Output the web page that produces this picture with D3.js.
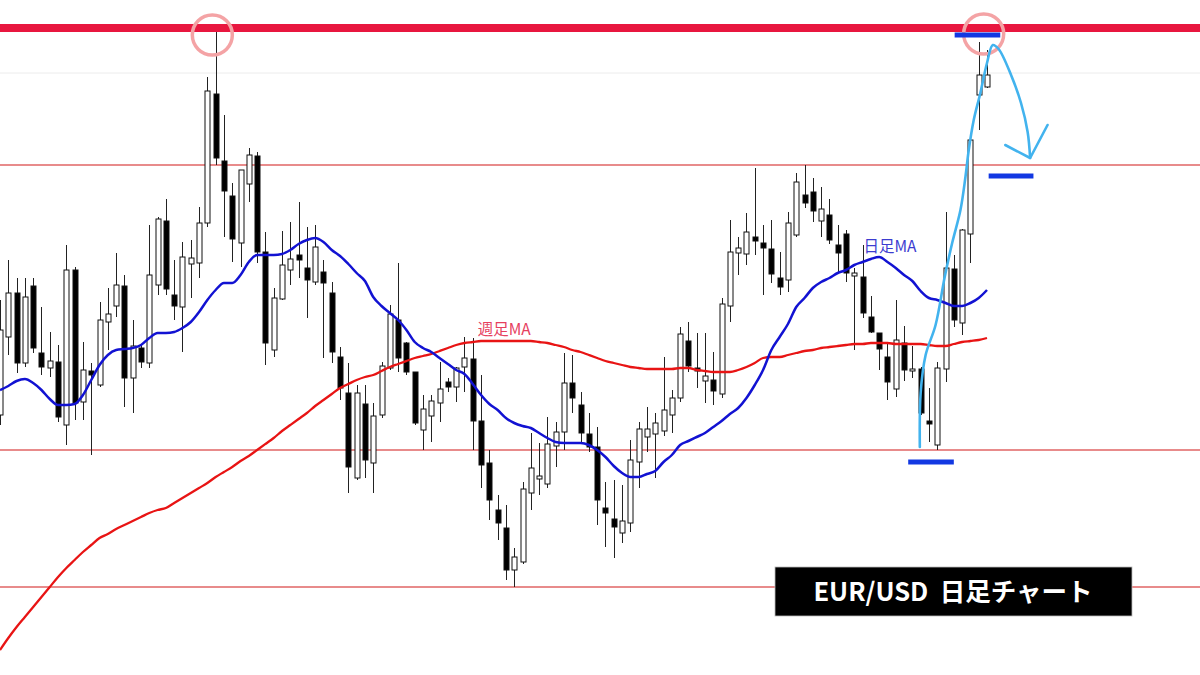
<!DOCTYPE html>
<html>
<head>
<meta charset="utf-8">
<script src="https://cdn.jsdelivr.net/npm/d3@7"></script>
<style>
    html, body { margin: 0; padding: 0; background: #fff; }
    svg { display: block; }
</style>
</head>
<body>
<svg width="1200" height="675"></svg>
<script>
//candles (price units, one per day)
var opens = [185,263,307,237,314,247,232,238,175,330, 198,229,215,278,294,314,222,252,237,315,
    379,305,293,336,337,377,506,439,404,357, 416,444,348,250,301,330,345,332,318,328,
    307,243,207,122,196,137,185,232,280,257, 228,170,184,197,218,213,233,241,179,137,
    90,72,30,38,107,121,116,154,168,217, 195,166,153,92,81,67,77,138,163,166,
    169,185,202,259,232,219,220,206,294,347, 346,363,357,351,322,320,365,405,408,379,
    385,355,366,324,323,283,267,243,211,257, 229,231,179,155,231,331,277,366,505,513];
var highs = [300,340,322,322,322,293,268,255,355,333, 258,237,298,312,347,325,280,255,375,383,
    401,340,358,360,393,523,570,485,417,430, 452,448,368,312,369,378,398,373,375,340,
    318,253,237,215,215,197,238,295,337,258, 228,205,205,238,222,233,263,262,225,150,
    105,95,52,118,167,157,183,178,247,245, 208,187,173,118,120,115,160,178,193,187,
    243,210,273,278,267,267,248,302,380,363, 387,432,375,380,348,388,427,435,422,413,
    401,375,370,332,355,304,267,257,300,274, 254,233,212,238,388,345,371,467,558,550];
var lows = [175,245,227,233,247,225,223,178,155,180, 180,145,213,250,283,193,187,232,232,305,
    305,280,248,302,322,373,435,363,338,333, 398,337,235,243,300,315,322,282,315,242,
    237,200,107,120,122,107,182,230,228,225, 175,150,158,178,208,198,208,150,112,80,
    60,20,13,36,90,105,112,133,150,187, 157,148,75,53,42,57,68,112,148,122,
    164,167,198,228,212,197,195,202,278,325, 335,345,305,317,305,308,363,392,378,363,
    356,328,318,250,282,267,230,200,203,219, 222,185,158,150,218,273,265,337,470,512];
var closes = [270,307,237,303,252,233,239,183,330,197, 230,225,280,286,315,222,254,238,325,381,
    311,294,343,342,377,509,442,409,361,430, 445,348,257,302,335,341,340,320,353,317,
    248,212,133,207,140,184,234,286,242,228, 177,191,199,211,213,232,242,179,135,100,
    77,30,43,111,132,124,156,168,217,202, 167,153,100,87,73,79,140,171,171,177,
    190,202,266,234,229,224,209,296,348,352, 368,359,352,326,313,377,418,397,389,391,
    360,347,327,327,287,268,251,218,260,230, 231,187,176,232,332,280,370,460,525,525];

//moving averages, read per candle
var dailyMA = [210,214,219,221,217,210,201,195,195,196, 205,220,235,245,250,251,252,255,262,267,
    267,268,272,278,288,300,310,317,317,325, 338,345,345,345,346,350,356,360,362,358,
    350,344,336,327,319,303,294,287,280,270, 258,252,248,242,236,230,226,216,205,196,
    190,182,177,174,172,167,162,158,157,157, 157,155,150,143,134,127,123,123,126,129,
    138,145,155,159,163,167,173,179,186,192, 202,215,230,250,263,276,293,302,312,318,
    322,327,330,335,338,341,343,338,332,325, 319,309,302,300,297,294,294,297,302,310];
var weeklyMA = [-50,-38,-27,-17,-7,3,13,23,32,40, 48,55,62,66,71,75,79,83,87,90,
    92,97,102,107,112,117,123,128,133,139, 144,150,156,162,169,175,181,187,194,200,
    206,212,216,220,223,225,229,233,236,239, 242,244,246,249,252,255,257,258,259,259,
    259,259,259,259,259,258,257,255,253,250, 248,245,242,239,237,235,233,232,231,231,
    231,231,232,232,230,229,228,228,228,230, 233,237,242,243,243,245,247,249,250,252,
    253,254,255,256,256,257,257,257,256,256, 256,256,255,254,254,256,258,259,260,262];

//levels
var thinLevels = [435, 150, 13];
var topLevel = 572;
var faintLevel = 527;

//annotations (candle index, price)
var circleMarks = [[25.6, 565], [118.6, 566]];
var blueBars = [[115.1, 120.6, 565], [119.2, 124.6, 424], [109.5, 115, 138]];
var arrowPath = [[110.9, 153], [111, 207], [111.6, 245], [112.8, 275], [113.9, 323], [114.8, 357],
    [115.8, 390], [116.4, 423], [116.8, 450], [117.4, 480], [118.2, 507], [119, 537],
    [119.7, 555], [120.4, 551], [121.9, 525], [123.1, 497], [123.9, 468], [124.2, 442]];
var arrowHead = [[121.2, 455], [124.2, 442], [126.3, 475]];
var maLabels = [
    {text: "週足MA", i: 57.6, v: 265, color: "#e6405e"},
    {text: "日足MA", i: 104.1, v: 348, color: "#3c3cd0"}
];
var title = "EUR/USD\u00a0\u00a0日足チャート";

var svg = d3.select("svg"),
    width = +svg.attr("width"),
    height = +svg.attr("height"),
    bodyWidth = 5;

//scales
var scaleX = d3.scaleLinear()
    .domain([0, opens.length - 1])
    .range([0, 987]);
var scaleY = d3.scaleLinear()
    .domain([0, 600])
    .range([600, 0]);

var candles = opens.map(function (o, i) {
    return {i: i, o: o, h: highs[i], l: lows[i], c: closes[i]};
});

//faint grid level
svg.append("line")
    .attr("x1", 0).attr("x2", width)
    .attr("y1", scaleY(faintLevel)).attr("y2", scaleY(faintLevel))
    .attr("stroke", "#ececec")
    .attr("stroke-width", 1);

//thin horizontal lines
svg.selectAll(".level")
    .data(thinLevels)
    .enter().append("line")
    .attr("class", "level")
    .attr("x1", 0).attr("x2", width)
    .attr("y1", d => scaleY(d)).attr("y2", d => scaleY(d))
    .attr("stroke", "#e06464")
    .attr("stroke-width", 1.4);

//candles
var gCandles = svg.append("g");
gCandles.selectAll(".wick")
    .data(candles)
    .enter().append("line")
    .attr("class", "wick")
    .attr("x1", d => Math.round(scaleX(d.i)) + 0.5)
    .attr("x2", d => Math.round(scaleX(d.i)) + 0.5)
    .attr("y1", d => scaleY(d.h))
    .attr("y2", d => scaleY(d.l))
    .attr("stroke", "#222")
    .attr("stroke-width", 1);
gCandles.selectAll(".body")
    .data(candles)
    .enter().append("rect")
    .attr("class", "body")
    .attr("x", d => Math.round(scaleX(d.i)) + 0.5 - bodyWidth / 2)
    .attr("y", d => scaleY(Math.max(d.o, d.c)))
    .attr("width", bodyWidth)
    .attr("height", d => Math.max(1.5, Math.abs(scaleY(d.o) - scaleY(d.c))))
    .attr("fill", d => d.c >= d.o ? "#fff" : "#000")
    .attr("stroke", "#111")
    .attr("stroke-width", 1);

//moving averages
var maLine = d3.line()
    .x((d, i) => scaleX(i))
    .y(d => scaleY(d))
    .curve(d3.curveMonotoneX);
svg.append("path")
    .attr("d", maLine(weeklyMA))
    .attr("fill", "none")
    .attr("stroke", "#e81414")
    .attr("stroke-width", 2.3);
svg.append("path")
    .attr("d", maLine(dailyMA))
    .attr("fill", "none")
    .attr("stroke", "#1212d2")
    .attr("stroke-width", 2.5);

//ma labels
svg.selectAll(".maLabel")
    .data(maLabels)
    .enter().append("text")
    .attr("class", "maLabel")
    .attr("x", d => scaleX(d.i))
    .attr("y", d => scaleY(d.v))
    .attr("fill", d => d.color)
    .style("font-family", "'Noto Sans CJK JP', 'Noto Sans', sans-serif")
    .style("font-size", "15.5px")
    .text(d => d.text);

//thick resistance line
svg.append("line")
    .attr("x1", 0).attr("x2", width)
    .attr("y1", scaleY(topLevel)).attr("y2", scaleY(topLevel))
    .attr("stroke", "#e8173f")
    .attr("stroke-width", 8);

//circles on the highs
svg.selectAll(".mark")
    .data(circleMarks)
    .enter().append("circle")
    .attr("class", "mark")
    .attr("cx", d => scaleX(d[0]))
    .attr("cy", d => scaleY(d[1]))
    .attr("r", 20)
    .attr("fill", "none")
    .attr("stroke", "#f4a3a5")
    .attr("stroke-width", 3.5);

//blue bars
svg.selectAll(".bar")
    .data(blueBars)
    .enter().append("line")
    .attr("class", "bar")
    .attr("x1", d => scaleX(d[0]))
    .attr("x2", d => scaleX(d[1]))
    .attr("y1", d => scaleY(d[2]))
    .attr("y2", d => scaleY(d[2]))
    .attr("stroke", "#1238e2")
    .attr("stroke-width", 5);

//hand drawn arrow
var freeLine = d3.line()
    .x(d => scaleX(d[0]))
    .y(d => scaleY(d[1]))
    .curve(d3.curveCatmullRom);
svg.append("path")
    .attr("d", freeLine(arrowPath))
    .attr("fill", "none")
    .attr("stroke", "#42b3ee")
    .attr("stroke-width", 2.6)
    .attr("stroke-linecap", "round");
svg.append("path")
    .attr("d", d3.line().x(d => scaleX(d[0])).y(d => scaleY(d[1]))(arrowHead))
    .attr("fill", "none")
    .attr("stroke", "#42b3ee")
    .attr("stroke-width", 2.6)
    .attr("stroke-linecap", "round")
    .attr("stroke-linejoin", "round");

//title box
var gTitle = svg.append("g")
    .attr("transform", "translate(" + [775, 567] + ")");
gTitle.append("rect")
    .attr("width", 357)
    .attr("height", 49)
    .attr("fill", "#000")
    .attr("stroke", "#bbb")
    .attr("stroke-width", 0.8);
gTitle.append("text")
    .attr("x", 178)
    .attr("y", 33.5)
    .attr("text-anchor", "middle")
    .attr("fill", "#fff")
    .style("font-family", "'Noto Sans CJK JP', 'Noto Sans', sans-serif")
    .style("font-weight", "700")
    .style("font-size", "25.5px")
    .text(title);
</script>
</body>
</html>
